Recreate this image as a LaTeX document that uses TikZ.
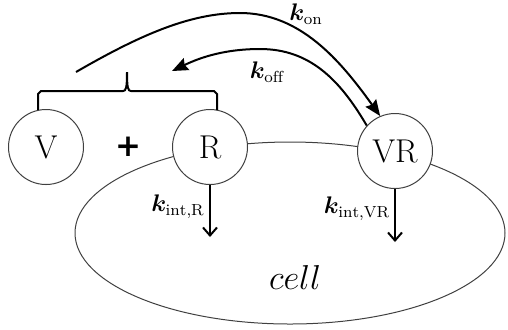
\documentclass[tikz,border=0pt]{standalone}
\usepackage{amsmath,bm}
\usepackage{fontspec}
\newfontfamily\plusfont{DejaVu Sans}
\usetikzlibrary{arrows.meta,shapes.geometric}
\begin{document}
\begin{tikzpicture}[x=0.5pt,y=-0.5pt,
  species/.style={circle,draw=black!75,line width=0.5pt,fill=white,minimum size=37.5pt,inner sep=0pt,font=\fontsize{16.5}{18}\selectfont},
  rate/.style={line width=1pt,-{Stealth[length=8pt,width=6.5pt,inset=1pt]}},
  intarrow/.style={line width=1pt,-{Straight Barb[length=4pt,width=7pt]}},
  lbl/.style={inner sep=0pt,font=\fontsize{12}{14}\selectfont},
  bracestyle/.style={line width=1pt}]
\useasboundingbox (0,0) rectangle (508,329);
% cell
\node[ellipse,draw=black!75,line width=0.5pt,minimum width=215pt,minimum height=91pt,inner sep=0pt] (cell) at (290,233) {};
\node[inner sep=0pt,font=\fontsize{18}{20}\selectfont] (celltext) at (295,277) {$cell$};
% species
\node[species] (V) at (46,147) {V};
\node[species] (R) at (210,147) {R};
\node[species] (VR) at (395,151) {VR};
\node[inner sep=0pt,font=\fontsize{15.5}{17}\plusfont\bfseries] (plus) at (128,147) {+};
% brace
\coordinate (braceL) at (38,110);
\coordinate (braceR) at (217,110);
\coordinate (braceTip) at (127,72);
\draw[bracestyle] (braceL) -- (38,94) -- (41,91) -- (123,91) .. controls (126,91) and (127,88) .. (braceTip)
  .. controls (127,88) and (128,91) .. (131,91) -- (214,91) -- (217,94) -- (braceR);
% k_on
\coordinate (onstart) at (76,72);
\draw[rate] (onstart) .. controls (140,35) and (190,13) .. (240,13) .. controls (300,13) and (340,60) .. (VR.113);
\node[lbl] (kon) at (306,14) {$\bm{k}_{\mathrm{on}}$};
% k_off
\coordinate (offend) at (172,71);
\draw[rate] (VR.138) .. controls (340,80) and (310,49) .. (260,49) .. controls (220,49) and (195,60) .. (offend);
\node[lbl] (koff) at (267,72) {$\bm{k}_{\mathrm{off}}$};
% internalization
\coordinate (Rint) at (210,237);
\coordinate (VRint) at (395,242);
\draw[intarrow] (R.south) -- (Rint);
\draw[intarrow] (VR.south) -- (VRint);
\node[lbl] (kintR) at (178,207) {$\bm{k}_{\mathrm{int,R}}$};
\node[lbl] (kintVR) at (357,209) {$\bm{k}_{\mathrm{int,VR}}$};
\end{tikzpicture}
\end{document}
